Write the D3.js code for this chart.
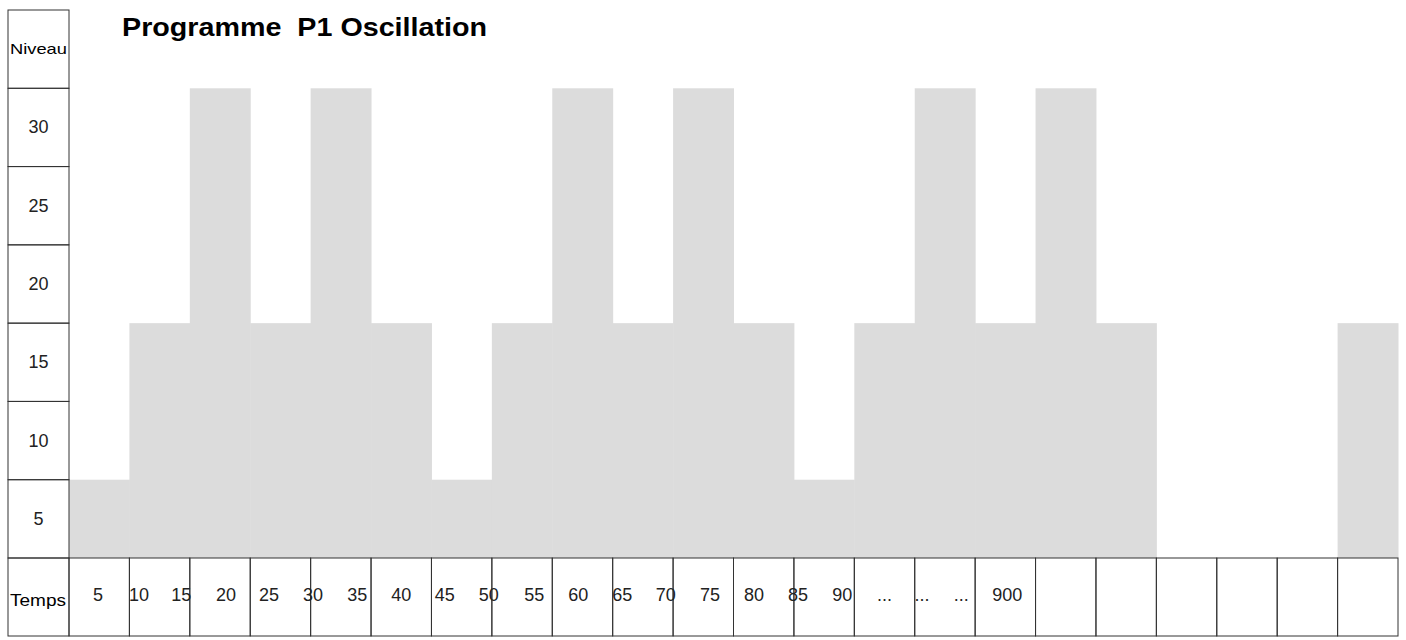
<!DOCTYPE html>
<html><head><meta charset="utf-8">
<script src="https://cdn.jsdelivr.net/npm/d3@7"></script>
<style>body{margin:0;background:#fff;font-family:"Liberation Sans",Arial,sans-serif}</style>
</head><body><svg id="chart" width="1406" height="640"></svg>
<script>
// level of each time cell (0 = empty)
var levels = [5,15,30,15,30,15,5,15,30,15,30,15,5,15,30,15,30,15,0,0,0,15];
// level rows shown in the left column
var levelTicks = [30,25,20,15,10,5];
// time labels and their position in cell units (as drawn, slightly irregular)
var timeLabels = ["5","10","15","20","25","30","35","40","45","50","55","60","65","70","75","80","85","90","...","...","...","900"];
var timePos = [0.48,1.16,1.86,2.6,3.31,4.04,4.77,5.5,6.22,6.95,7.7,8.43,9.16,9.88,10.61,11.34,12.07,12.8,13.5,14.12,14.77,15.53];

var svg = d3.select("#chart");
var x = d3.scaleLinear().domain([0, levels.length]).range([69, 1398]);
var y = d3.scaleLinear().domain([0, 35]).range([558, 10]);
var rowH = y(0) - y(5);

// grey bars
svg.selectAll("rect.bar").data(levels).enter().append("rect")
    .attr("x", (d,i) => x(i)).attr("width", x(1) - x(0) + 0.5)
    .attr("y", d => y(d)).attr("height", d => y(0) - y(d))
    .attr("fill", "#dcdcdc");

// left column boxes
var col = svg.append("g");
col.append("rect").attr("x", 8).attr("y", y(35)).attr("width", 61).attr("height", rowH)
    .attr("fill", "none").attr("stroke", "#333");
col.append("text").attr("x", 38.5).attr("y", y(32.5) + 5).attr("text-anchor", "middle")
    .attr("font-size", 15).attr("textLength", 57).attr("lengthAdjust", "spacingAndGlyphs").text("Niveau");
levelTicks.forEach(function(v) {
    col.append("rect").attr("x", 8).attr("y", y(v)).attr("width", 61).attr("height", rowH)
        .attr("fill", "none").attr("stroke", "#333");
    col.append("text").attr("x", 38.5).attr("y", y(v - 2.5) + 6).attr("text-anchor", "middle")
        .attr("font-size", 18).attr("fill", "#222").text(v);
});

// bottom time row
var row = svg.append("g");
row.append("rect").attr("x", 8).attr("y", 558).attr("width", 61).attr("height", 78)
    .attr("fill", "none").attr("stroke", "#333");
row.append("text").attr("x", 38).attr("y", 606).attr("text-anchor", "middle")
    .attr("font-size", 16).attr("textLength", 56).attr("lengthAdjust", "spacingAndGlyphs").text("Temps");
row.selectAll("rect.cell").data(levels).enter().append("rect")
    .attr("x", (d,i) => x(i)).attr("y", 558).attr("width", x(1) - x(0)).attr("height", 78)
    .attr("fill", "none").attr("stroke", "#333");
row.selectAll("text.t").data(timeLabels).enter().append("text")
    .attr("x", (d,i) => x(timePos[i])).attr("y", 601).attr("text-anchor", "middle")
    .attr("font-size", 18).attr("fill", "#222").text(d => d);

// title
svg.append("text").attr("x", 122).attr("y", 36).attr("font-size", 26).attr("font-weight", "bold")
    .attr("textLength", 365).attr("lengthAdjust", "spacingAndGlyphs")
    .attr("xml:space", "preserve").style("white-space", "pre").text("Programme  P1 Oscillation");
</script></body></html>
